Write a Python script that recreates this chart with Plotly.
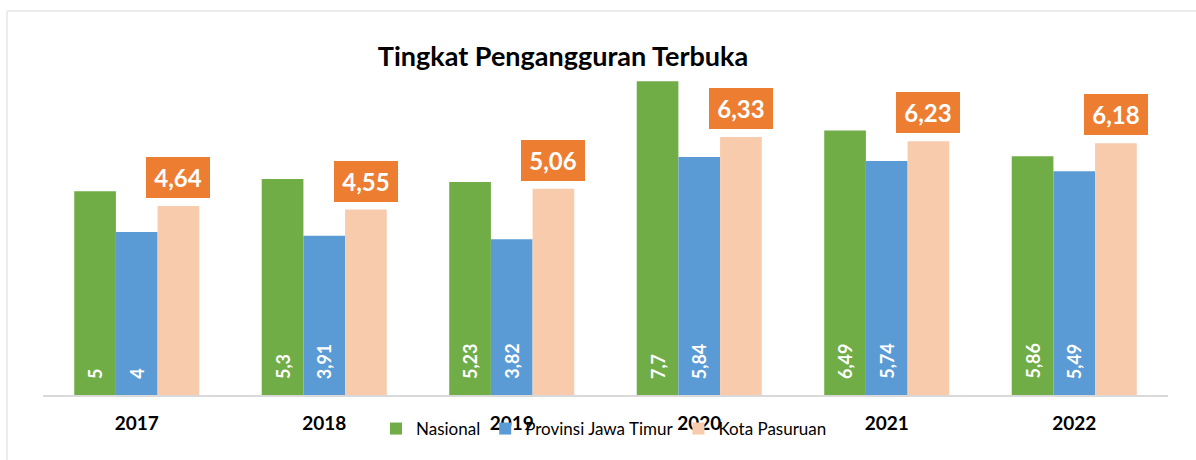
import plotly.graph_objects as go

years = ["2017", "2018", "2019", "2020", "2021", "2022"]
nasional = [5, 5.3, 5.23, 7.7, 6.49, 5.86]
jatim = [4, 3.91, 3.82, 5.84, 5.74, 5.49]
pasuruan = [4.64, 4.55, 5.06, 6.33, 6.23, 6.18]
series_names = ["Nasional", "Provinsi Jawa Timur", "Kota Pasuruan"]

GREEN = "#70AD47"
BLUE = "#5B9BD5"
PEACH = "#F8CBAD"
ORANGE = "#ED7D31"
FONT = "Lato"

W, H = 1196, 460
ML, MR, MT, MB = 43, 28, 69, 65
plot_w = W - ML - MR
plot_h = H - MT - MB
cat_px = plot_w / len(years)
bargap = 0.333
bar_px = cat_px * (1 - bargap) / 3


def fmt(v):
    return "{:g}".format(v).replace(".", ",")


fig = go.Figure()
for name, vals, col in zip(series_names, [nasional, jatim, pasuruan], [GREEN, BLUE, PEACH]):
    fig.add_trace(go.Bar(x=years, y=vals, name=name, marker=dict(color=col, line=dict(width=0)),
                         hoverinfo="skip"))

annotations = []
# inside rotated labels for Nasional and Jawa Timur
for vals, shift in [(nasional, -bar_px), (jatim, 0)]:
    for i, v in enumerate(vals):
        annotations.append(dict(x=i, y=0, xref="x", yref="y", text="<b>%s</b>" % fmt(v),
                                textangle=-90, showarrow=False, xanchor="center", yanchor="bottom",
                                xshift=shift, yshift=14,
                                font=dict(family=FONT, size=18, color="white")))
# orange boxed labels above Kota Pasuruan
for i, v in enumerate(pasuruan):
    annotations.append(dict(x=i, y=v, xref="x", yref="y", text="<b>%s</b>" % fmt(v),
                            showarrow=False, xanchor="center", yanchor="bottom",
                            xshift=bar_px, yshift=8, bgcolor=ORANGE, width=62, height=39,
                            borderpad=1, borderwidth=0,
                            font=dict(family=FONT, size=24, color="white")))

fig.update_layout(
    width=W, height=H,
    margin=dict(l=ML, r=MR, t=MT, b=MB),
    paper_bgcolor="white", plot_bgcolor="white",
    barmode="group", bargap=bargap, bargroupgap=0,
    title=dict(text="<b>Tingkat Pengangguran Terbuka</b>", x=563 / W, xref="container",
               xanchor="center", y=1 - 57 / H, yref="container", yanchor="middle",
               font=dict(family=FONT, size=27, color="black")),
    xaxis=dict(type="category", range=[-0.5, len(years) - 0.5], autorange=False,
               showline=True, linecolor="#D9D9D9", linewidth=1.5, showgrid=False,
               ticks="outside", ticklen=10, tickcolor="rgba(0,0,0,0)",
               tickfont=dict(family=FONT, size=19, color="black"), tickprefix="<b>", ticksuffix="</b>",
               fixedrange=True),
    yaxis=dict(range=[0, 8], autorange=False, visible=False, showgrid=False, fixedrange=True),
    legend=dict(orientation="h", x=(604 - ML) / plot_w, xanchor="center",
                y=-(429 - (H - MB)) / plot_h, yanchor="middle",
                bgcolor="rgba(0,0,0,0)", font=dict(family=FONT, size=17, color="black"),
                traceorder="normal"),
    annotations=annotations,
    shapes=[dict(type="rect", xref="paper", yref="paper",
                 x0=(7 - ML) / plot_w, x1=(W + 5 - ML) / plot_w,
                 y0=-(H + 5 - (H - MB)) / plot_h, y1=((H - MB) - 11) / plot_h,
                 line=dict(color="#D9D9D9", width=1), layer="below")],
)

fig.write_html("out.html", config={"displayModeBar": False},
               post_script="document.body.style.margin='0';")
